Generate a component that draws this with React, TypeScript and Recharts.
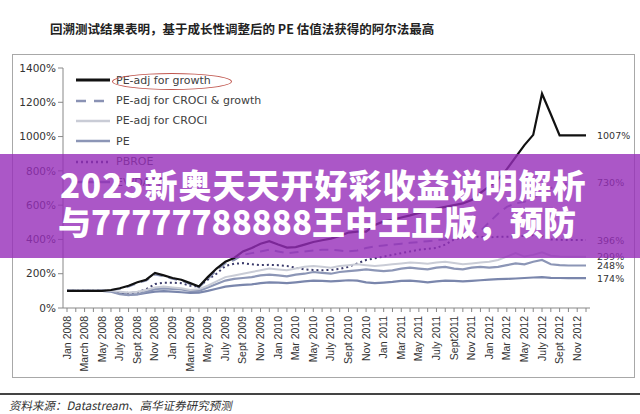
import { LineChart, Line, XAxis, YAxis } from 'recharts';

const months = [
  '2008-01', '2008-02', '2008-03', '2008-04', '2008-05', '2008-06', '2008-07', '2008-08', '2008-09', '2008-10', '2008-11', '2008-12',
  '2009-01', '2009-02', '2009-03', '2009-04', '2009-05', '2009-06', '2009-07', '2009-08', '2009-09', '2009-10', '2009-11', '2009-12',
  '2010-01', '2010-02', '2010-03', '2010-04', '2010-05', '2010-06', '2010-07', '2010-08', '2010-09', '2010-10', '2010-11', '2010-12',
  '2011-01', '2011-02', '2011-03', '2011-04', '2011-05', '2011-06', '2011-07', '2011-08', '2011-09', '2011-10', '2011-11', '2011-12',
  '2012-01', '2012-02', '2012-03', '2012-04', '2012-05', '2012-06', '2012-07', '2012-08', '2012-09', '2012-10', '2012-11', '2012-12',
];

const tickLabels = [
  'Jan 2008', 'March 2008', 'May 2008', 'July 2008', 'Sept 2008', 'Nov 2008',
  'Jan 2009', 'March 2009', 'May 2009', 'July 2009', 'Sept 2009', 'Nov 2009',
  'Jan 2010', 'Mar 2010', 'May 2010', 'July 2010', 'Sept 2010', 'Nov 2010',
  'Jan 2011', 'Mar 2011', 'May 2011', 'July 2011', 'Sept2011', 'Nov 2011',
  'Jan 2012', 'Mar 2012', 'May 2012', 'July 2012', 'Sept 2012', 'Nov 2012',
];

// PE-adj for growth
const peGrowth = [
  100, 100, 100, 100, 100, 105, 115, 130, 150, 165, 205, 190,
  175, 165, 145, 125, 180, 230, 270, 292, 330, 350, 375, 390,
  370, 352, 355, 370, 385, 395, 405, 420, 440, 445, 445, 485,
  505, 515, 528, 540, 555, 565, 580, 590, 600, 610, 630, 672,
  710, 750, 810, 880, 950, 1010, 1250, 1130, 1007, 1007, 1007, 1007,
];

// PE-adj for CROCI & growth
const peCrociGrowth = [
  100, 100, 100, 100, 100, 105, 112, 125, 145, 160, 195, 185,
  170, 160, 140, 120, 170, 220, 260, 280, 310, 320, 330, 340,
  330, 320, 325, 330, 335, 340, 340, 335, 330, 335, 350, 360,
  365, 370, 375, 380, 385, 390, 395, 400, 410, 420, 430, 450,
  500, 550, 590, 610, 620, 640, 680, 700, 715, 725, 730, 730,
];

// PE-adj for CROCI
const peCroci = [
  100, 100, 100, 100, 100, 100, 95, 90, 95, 105, 120, 125,
  120, 115, 105, 110, 130, 155, 180, 190, 200, 210, 220, 230,
  225, 220, 230, 240, 245, 240, 235, 245, 250, 255, 250, 245,
  250, 255, 260, 265, 262, 258, 265, 270, 262, 255, 260, 265,
  270, 280, 300, 320, 300, 310, 325, 305, 300, 299, 299, 299,
];

const pe = [
  100, 100, 100, 100, 100, 95, 80, 75, 80, 95, 110, 115,
  112, 108, 100, 100, 120, 140, 160, 170, 175, 180, 190, 195,
  190, 185, 195, 200, 210, 205, 200, 210, 215, 220, 225, 220,
  215, 220, 230, 235, 230, 225, 235, 240, 230, 225, 235, 240,
  235, 240, 250, 260, 255, 270, 280, 255, 250, 248, 248, 248,
];

const pbroe = [
  100, 100, 100, 100, 100, 98, 90, 88, 92, 110, 140, 148,
  148, 145, 130, 125, 165, 200, 245, 258, 262, 255, 250, 252,
  250, 245, 235, 225, 222, 220, 222, 228, 240, 260, 280, 290,
  300, 310, 320, 330, 340, 345, 350, 370, 400, 412, 415, 415,
  412, 415, 415, 418, 420, 425, 420, 400, 398, 396, 396, 396,
];

const evDacf = [
  100, 100, 100, 100, 100, 98, 85, 78, 80, 88, 95, 98,
  95, 92, 88, 90, 100, 112, 125, 130, 135, 138, 145, 150,
  148, 145, 150, 155, 160, 158, 155, 158, 162, 160, 150, 145,
  148, 152, 158, 160, 155, 150, 155, 160, 158, 155, 158, 162,
  165, 168, 170, 172, 175, 178, 180, 176, 175, 174, 174, 174,
];

const data = months.map((m, i) => ({
  month: m,
  peGrowth: peGrowth[i],
  peCrociGrowth: peCrociGrowth[i],
  peCroci: peCroci[i],
  pe: pe[i],
  pbroe: pbroe[i],
  evDacf: evDacf[i],
}));

const series = [
  { key: 'peGrowth', name: 'PE-adj for growth', color: '#111111', width: 2.2, dash: undefined },
  { key: 'peCrociGrowth', name: 'PE-adj for CROCI & growth', color: '#8a92b4', width: 2, dash: '9 6' },
  { key: 'peCroci', name: 'PE-adj for CROCI', color: '#c9ccd6', width: 2, dash: undefined },
  { key: 'pe', name: 'PE', color: '#8c96b6', width: 2.2, dash: undefined },
  { key: 'pbroe', name: 'PBROE', color: '#3c3c6c', width: 2, dash: '2 3' },
  { key: 'evDacf', name: 'EV/DACF', color: '#7a86ac', width: 2.2, dash: undefined },
];

const last = months.length - 1;

function MonthTick(props: any) {
  const { x, y, index } = props;
  if (index % 2 !== 0) return null;
  const tx = x + 3.5;
  const ty = y + 2;
  return (
    <text
      x={tx}
      y={ty}
      transform={`rotate(-90, ${tx}, ${ty})`}
      textAnchor="end"
      fontSize={10.5}
      fontFamily="'Liberation Sans', Arial, sans-serif"
      fill="#333"
    >
      {tickLabels[index / 2]}
    </text>
  );
}

function EndLabel(props: any) {
  const { x, y, index, value } = props;
  if (index !== last) return null;
  return (
    <text x={x + 11} y={y} dy={3.5} fontSize={9.5} fontFamily="'DejaVu Sans', Verdana, sans-serif" fill="#333">
      {value}%
    </text>
  );
}

function LegendBox() {
  return (
    <div
      style={{
        position: 'absolute', left: 74, top: 70,
        fontFamily: "'DejaVu Sans', Verdana, sans-serif", fontSize: 11, color: '#404040',
      }}
    >
      {series.map((s) => (
        <div key={s.key} style={{ display: 'flex', alignItems: 'center', height: 20.4 }}>
          <svg width={40} height={10} style={{ marginRight: 2 }}>
            <line x1={2} y1={5} x2={36} y2={5} stroke={s.color} strokeWidth={s.key === 'peGrowth' ? 3 : 2.5} strokeDasharray={s.dash === '9 6' ? '10 8' : s.dash} />
          </svg>
          <span>{s.name}</span>
        </div>
      ))}
    </div>
  );
}

export default function App() {
  return (
    <div style={{ position: 'absolute', left: 0, top: 0, width: 640, height: 414, background: '#fff', overflow: 'hidden' }}>
      <div
        style={{
          position: 'absolute', left: 50, top: 19, fontFamily: "'Noto Sans CJK SC', sans-serif",
          fontWeight: 700, fontSize: 12.5, color: '#222', whiteSpace: 'nowrap',
        }}
      >
        回溯测试结果表明，基于成长性调整后的 PE 估值法获得的阿尔法最高
      </div>
      <div style={{ position: 'absolute', left: 12, top: 54, width: 621, height: 322, border: '1.5px solid #a8a8a8' }} />
      <div style={{ position: 'absolute', left: 0, top: 0 }}>
        <LineChart width={640} height={414} data={data} margin={{ top: 68, right: 50, bottom: 46, left: 13 }}>
          <XAxis
            dataKey="month"
            interval={0}
            height={60}
            padding={{ left: 4, right: 4 }}
            tick={<MonthTick />}
            tickSize={4}
            axisLine={{ stroke: '#888' }}
            tickLine={{ stroke: '#888' }}
          />
          <YAxis
            width={50}
            domain={[0, 1400]}
            ticks={[0, 200, 400, 600, 800, 1000, 1200, 1400]}
            tickFormatter={(v: number) => `${v}%`}
            tick={{ fontSize: 10.5, fill: '#333', fontFamily: "'DejaVu Sans', Verdana, sans-serif" }}
            tickSize={5}
            axisLine={{ stroke: '#888' }}
            tickLine={{ stroke: '#888' }}
          />
          {[...series].reverse().map((s) => (
            <Line
              key={s.key}
              dataKey={s.key}
              name={s.name}
              type="linear"
              stroke={s.color}
              strokeWidth={s.width}
              strokeDasharray={s.dash}
              dot={false}
              label={<EndLabel />}
              isAnimationActive={false}
            />
          ))}
        </LineChart>
      </div>
      <LegendBox />
      <div
        style={{
          position: 'absolute', left: 112, top: 73, width: 118, height: 15,
          border: '1.5px solid #c0574f', borderRadius: '50%',
        }}
      />
      <div style={{ position: 'absolute', left: 0, top: 393, width: 640, height: 1.5, background: '#444' }} />
      <div
        style={{
          position: 'absolute', left: 10, top: 397, fontFamily: "'Noto Sans CJK SC', sans-serif",
          fontSize: 11.5, color: '#333', whiteSpace: 'nowrap', transform: 'skewX(-12deg)',
        }}
      >
        资料来源：Datastream、高华证券研究预测
      </div>
      <div
        style={{
          position: 'absolute', left: 0, top: 154, width: 640, height: 104,
          background: 'rgba(150, 45, 185, 0.8)',
        }}
      />
      <div
        style={{
          position: 'absolute', left: 58, top: 166, fontFamily: "'Noto Sans CJK SC', sans-serif",
          fontWeight: 900, fontSize: 33, lineHeight: '37px', color: '#fff', whiteSpace: 'nowrap',
        }}
      >
        <div style={{ letterSpacing: 1, marginLeft: 2 }}>2025新奥天天开好彩收益说明解析</div>
        <div>与77777788888王中王正版，预防</div>
      </div>
    </div>
  );
}
